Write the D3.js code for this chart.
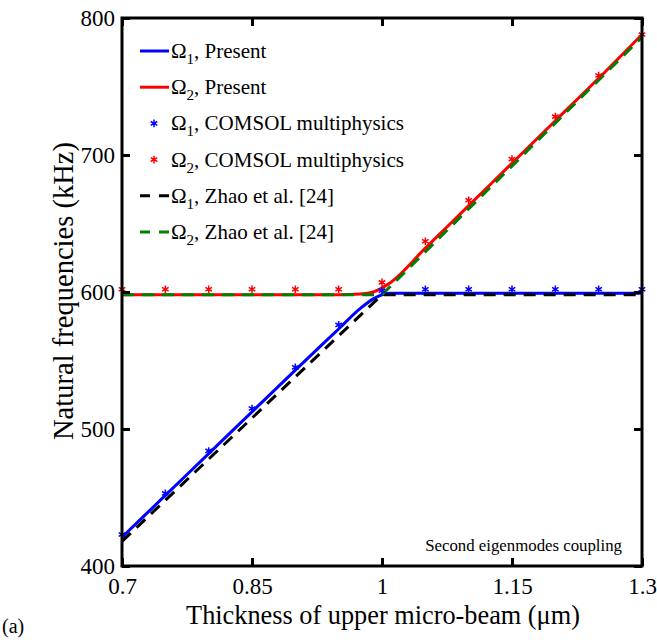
<!DOCTYPE html>
<html>
<head>
<meta charset="utf-8">
<script src="https://cdn.jsdelivr.net/npm/d3@7"></script>
<style>
  body { margin: 0; background: #fff; }
  text { font-family: "Liberation Serif", "Times New Roman", serif; fill: #000; }
</style>
</head>
<body>
<svg id="chart" width="657" height="640"></svg>
<script>
// thickness (um) vs natural frequency (kHz)
let presentX1 = [0.7, 0.75, 0.8, 0.85, 0.9, 0.95, 0.975, 0.99, 1.0, 1.01, 1.03, 1.1, 1.2, 1.3];
let presentY1 = [421, 451.5, 482, 512.5, 543, 573, 588, 595, 598, 599, 599, 599, 599, 599];
let presentX2 = [0.7, 0.8, 0.9, 0.95, 0.975, 0.99, 1.0, 1.01, 1.05, 1.1, 1.15, 1.2, 1.25, 1.3];
let presentY2 = [598, 598, 598, 598, 598.5, 600, 603, 607, 632, 663, 694, 725, 756, 788];

let comsolX = [0.7, 0.75, 0.8, 0.85, 0.9, 0.95, 1.0, 1.05, 1.1, 1.15, 1.2, 1.25, 1.3];
let comsolY1 = [423, 453, 484, 515, 545, 576, 601, 602, 602, 602, 602, 602, 602];
let comsolY2 = [602, 602, 602, 602, 602, 602, 607, 637, 667, 697, 728, 758, 788];

let zhaoX = [0.7, 1.0, 1.3];
let zhaoY1 = [418, 598, 598];
let zhaoY2 = [598, 598, 786];

let xTicks = [0.7, 0.85, 1, 1.15, 1.3];
let yTicks = [400, 500, 600, 700, 800];

let legendLabels = [
  ['1', ', Present'],
  ['2', ', Present'],
  ['1', ', COMSOL multiphysics'],
  ['2', ', COMSOL multiphysics'],
  ['1', ', Zhao et al. [24]'],
  ['2', ', Zhao et al. [24]']
];

let svg = d3.select('#chart');
let mLeft = 122, mRight = 642, mTop = 18, mBottom = 566;

let sx = d3.scaleLinear().domain([0.7, 1.3]).range([mLeft, mRight]);
let sy = d3.scaleLinear().domain([400, 800]).range([mBottom, mTop]);

let line = d3.line().x(d => sx(d[0])).y(d => sy(d[1]));
let smooth = d3.line().x(d => sx(d[0])).y(d => sy(d[1])).curve(d3.curveMonotoneX);

let zip = (xs, ys) => xs.map((x, i) => [x, ys[i]]);

// shrink/grow a text node so it spans roughly the given width
function fitWidth(sel, w) {
  let fs = parseFloat(sel.style('font-size'));
  let len = sel.node().getComputedTextLength();
  sel.style('font-size', (fs * w / len).toFixed(2) + 'px');
}

let series = [
  {type: 'line', pts: zip(presentX1, presentY1), color: '#0000ff', dash: null},
  {type: 'line', pts: zip(presentX2, presentY2), color: '#ff0000', dash: null},
  {type: 'star', pts: zip(comsolX, comsolY1), color: '#0000ff'},
  {type: 'star', pts: zip(comsolX, comsolY2), color: '#ff0000'},
  {type: 'line', pts: zip(zhaoX, zhaoY1), color: '#000000', dash: '12,8'},
  {type: 'line', pts: zip(zhaoX, zhaoY2), color: '#008000', dash: '12,8'}
];

let plot = svg.append('g');

let drawOrder = [0, 1, 4, 5, 2, 3];
let star = d3.symbol().type(d3.symbolAsterisk).size(40);

drawOrder.forEach(k => {
  let s = series[k];
  if (s.type === 'line') {
    plot.append('path')
      .attr('d', k < 2 ? smooth(s.pts) : line(s.pts))
      .attr('fill', 'none')
      .attr('stroke', s.color)
      .attr('stroke-width', 3)
      .attr('stroke-dasharray', s.dash);
  } else {
    plot.selectAll(null)
      .data(s.pts)
      .enter()
      .append('path')
      .attr('d', star)
      .attr('transform', d => `translate(${sx(d[0])},${sy(d[1])})`)
      .attr('fill', 'none')
      .attr('stroke', s.color)
      .attr('stroke-width', 1.5);
  }
});

// axes with inward ticks on all four sides
let tickLen = 8;
let axB = d3.axisBottom(sx).tickValues(xTicks).tickSize(-tickLen).tickPadding(12).tickFormat(d3.format(''));
let axT = d3.axisTop(sx).tickValues(xTicks).tickSize(-tickLen).tickFormat('');
let axL = d3.axisLeft(sy).tickValues(yTicks).tickSize(-tickLen).tickPadding(7);
let axR = d3.axisRight(sy).tickValues(yTicks).tickSize(-tickLen).tickFormat('');

function styleAxis(g) {
  g.select('.domain').remove();
  g.attr('font-family', null);
  g.selectAll('line').attr('stroke', '#000').attr('stroke-width', 3);
  g.selectAll('text').style('font-size', '23px');
}

svg.append('g').attr('transform', `translate(0,${mBottom})`).call(axB).call(styleAxis);
svg.append('g').attr('transform', `translate(0,${mTop})`).call(axT).call(styleAxis);
svg.append('g').attr('transform', `translate(${mLeft},0)`).call(axL).call(styleAxis);
svg.append('g').attr('transform', `translate(${mRight},0)`).call(axR).call(styleAxis);

svg.append('rect')
  .attr('x', mLeft).attr('y', mTop)
  .attr('width', mRight - mLeft).attr('height', mBottom - mTop)
  .attr('fill', 'none').attr('stroke', '#000').attr('stroke-width', 3);

// axis titles
svg.append('text')
  .attr('x', 383).attr('y', 624)
  .attr('text-anchor', 'middle')
  .style('font-size', '26px')
  .text('Thickness of upper micro-beam (\u03bcm)')
  .call(fitWidth, 394);

svg.append('text')
  .attr('transform', 'translate(73,291) rotate(-90)')
  .attr('text-anchor', 'middle')
  .style('font-size', '26px')
  .text('Natural frequencies (kHz)')
  .call(fitWidth, 298);

svg.append('text')
  .attr('x', 2).attr('y', 633)
  .style('font-size', '20px')
  .text('(a)');

svg.append('text')
  .attr('x', 622).attr('y', 551)
  .attr('text-anchor', 'end')
  .style('font-size', '16px')
  .text('Second eigenmodes coupling')
  .call(fitWidth, 197);

// legend
let legend = svg.append('g');
legendLabels.forEach((lab, i) => {
  let y = 51 + i * 36.2;
  let s = series[i];
  if (s.type === 'line') {
    legend.append('line')
      .attr('x1', 140).attr('x2', 169).attr('y1', y).attr('y2', y)
      .attr('stroke', s.color).attr('stroke-width', 3)
      .attr('stroke-dasharray', s.dash ? '10,9' : null);
  } else {
    legend.append('path')
      .attr('d', star)
      .attr('transform', `translate(154,${y})`)
      .attr('fill', 'none').attr('stroke', s.color).attr('stroke-width', 1.5);
  }
  let t = legend.append('text')
    .attr('x', 171).attr('y', y + 7)
    .style('font-size', '21px');
  t.append('tspan').text('\u03a9');
  t.append('tspan').attr('dy', 6).style('font-size', '15px').text(lab[0]);
  t.append('tspan').attr('dy', -6).text(lab[1]);
});
</script>
</body>
</html>
